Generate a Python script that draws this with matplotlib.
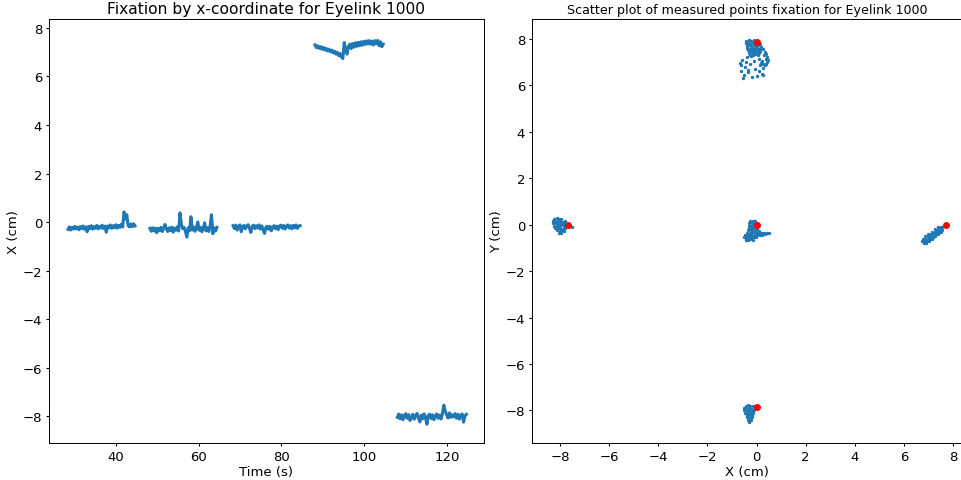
import numpy as np
import matplotlib
matplotlib.use("Agg")
from matplotlib import pyplot as plt
from matplotlib.ticker import MultipleLocator

# --- left panel: x-coordinate during each fixation (cm) ---
seg_start = [28.4, 48.2, 68.3, 88.1, 108.0]
seg_end = [44.6, 64.4, 84.5, 104.6, 124.7]

seg1 = [-0.30, -0.20, -0.33, -0.22, -0.29, -0.18, -0.28, -0.21, -0.32, -0.19,
        -0.27, -0.16, -0.30, -0.20, -0.40, -0.18, -0.27, -0.15, -0.29, -0.19,
        -0.26, -0.14, -0.28, -0.18, -0.25, -0.13, -0.27, -0.17, -0.42, -0.16,
        -0.24, -0.12, -0.26, -0.15, -0.23, -0.11, -0.25, -0.14, -0.22, -0.09,
        -0.20, 0.42, 0.12, 0.30, -0.15, -0.20, -0.08, -0.19, -0.07, -0.16]
seg2 = [-0.26, -0.38, -0.24, -0.37, -0.25, -0.44, -0.26, -0.36, -0.22, -0.39,
        -0.25, -0.10, -0.28, -0.39, -0.24, -0.35, -0.21, -0.42, -0.25, -0.34,
        -0.20, -0.37, 0.38, -0.08, -0.27, -0.22, -0.39, -0.62, -0.24, -0.36,
        0.22, -0.33, -0.21, -0.38, -0.24, 0.00, -0.34, -0.22, -0.40, -0.25,
        -0.03, -0.36, -0.23, -0.39, -0.19, 0.30, -0.48, -0.24, -0.37, -0.22]
seg3 = [-0.15, -0.27, -0.13, -0.33, -0.17, -0.12, -0.40, -0.19, -0.14, -0.28,
        -0.16, -0.11, -0.26, -0.43, -0.18, -0.13, -0.27, -0.15, -0.25, -0.12,
        -0.29, -0.16, -0.33, -0.47, -0.21, -0.17, -0.30, -0.18, -0.36, -0.20,
        -0.15, -0.28, -0.17, -0.31, -0.16, -0.13, -0.26, -0.14, -0.29, -0.17,
        -0.12, -0.25, -0.15, -0.28, -0.14, -0.24, -0.12, -0.26, -0.16, -0.15]
seg4 = [7.30, 7.19, 7.27, 7.16, 7.23, 7.12, 7.20, 7.09, 7.16, 7.05,
        7.13, 7.02, 7.09, 6.97, 7.05, 6.92, 7.00, 6.86, 6.95, 6.80,
        6.74, 7.40, 7.10, 6.92, 7.25, 7.33, 7.15, 7.36, 7.21, 7.39,
        7.24, 7.41, 7.27, 7.43, 7.29, 7.45, 7.32, 7.47, 7.34, 7.48,
        7.33, 7.46, 7.30, 7.48, 7.35, 7.49, 7.27, 7.43, 7.23, 7.33]
seg5 = [-8.05, -7.92, -8.11, -7.95, -8.15, -7.97, -7.90, -8.09, -7.94, -8.18,
        -8.06, -7.93, -8.13, -7.98, -7.89, -8.08, -8.24, -7.96, -8.11, -7.91,
        -8.07, -8.34, -7.97, -7.92, -8.10, -7.95, -8.15, -7.99, -7.91, -8.09,
        -7.96, -8.12, -7.90, -7.55, -7.80, -7.94, -8.08, -7.87, -8.05, -7.95,
        -8.03, -7.90, -8.09, -7.93, -8.13, -7.97, -7.91, -8.25, -7.98, -7.93]
segments = [seg1, seg2, seg3, seg4, seg5]

# --- right panel: measured points (cm) ---
top_x = [-0.42, -0.31, -0.22, -0.12, -0.03, 0.06,
         -0.45, -0.36, -0.25, -0.16, -0.07, 0.03, 0.12,
         -0.40, -0.30, -0.21, -0.11, -0.01, 0.09, 0.17,
         -0.38, -0.27, -0.18, -0.08, 0.02, 0.11,
         -0.35, -0.24, -0.14, -0.05, 0.05, 0.14,
         -0.30, -0.20, -0.10, 0.00, 0.08,
         -0.26, -0.15, -0.06, 0.04,
         0.18, 0.26, 0.33, 0.39, 0.44, 0.46, 0.43, 0.38, 0.33, 0.28, 0.22, 0.30, 0.40,
         -0.68, -0.62, -0.58, -0.52, -0.47, -0.40, -0.33, -0.26, -0.18, -0.12, -0.05, 0.02,
         0.08, 0.15, 0.22, 0.28, -0.55, -0.36, -0.21, 0.10, 0.18, -0.65, -0.44, 0.25]
top_y = [7.92, 7.94, 7.90, 7.93, 7.88, 7.91,
         7.80, 7.83, 7.79, 7.82, 7.78, 7.81, 7.76,
         7.70, 7.72, 7.68, 7.71, 7.69, 7.73, 7.66,
         7.60, 7.58, 7.62, 7.59, 7.61, 7.57,
         7.50, 7.48, 7.52, 7.49, 7.51, 7.47,
         7.40, 7.42, 7.38, 7.41, 7.39,
         7.32, 7.30, 7.33, 7.31,
         7.62, 7.55, 7.45, 7.35, 7.22, 7.10, 6.98, 6.90, 6.86, 6.92, 7.05, 7.28, 7.15,
         6.95, 6.60, 7.10, 6.45, 6.80, 7.20, 6.55, 6.90, 6.35, 7.05, 6.70, 6.40,
         7.15, 6.85, 6.50, 6.75, 6.30, 6.65, 7.25, 6.60, 6.95, 6.85, 7.00, 6.45]

left_x = [-8.25, -8.15, -8.05, -7.95,
          -8.30, -8.20, -8.10, -8.00, -7.90, -7.82,
          -8.28, -8.18, -8.08, -7.98, -7.88, -7.80,
          -8.25, -8.15, -8.05, -7.95, -7.85, -7.75, -7.62, -7.50,
          -8.20, -8.10, -8.00, -7.90, -7.80,
          -8.12, -8.02, -7.92, -7.84,
          -8.04, -7.95]
left_y = [0.25, 0.27, 0.24, 0.26,
          0.15, 0.17, 0.14, 0.16, 0.13, 0.15,
          0.05, 0.06, 0.04, 0.07, 0.03, 0.05,
          -0.05, -0.04, -0.06, -0.03, -0.05, -0.07, -0.06, -0.09,
          -0.15, -0.16, -0.14, -0.17, -0.13,
          -0.25, -0.27, -0.24, -0.26,
          -0.35, -0.37]

mid_x = [-0.25, -0.15, -0.05,
         -0.30, -0.20, -0.10, 0.00,
         -0.32, -0.22, -0.12, -0.02,
         -0.30, -0.20, -0.10, 0.00,
         -0.33, -0.23, -0.13, -0.03, 0.08,
         -0.38, -0.28, -0.18, -0.08, 0.02, 0.12, 0.22, 0.32, 0.42, 0.50,
         -0.48, -0.38, -0.28, -0.18, -0.08, 0.02, 0.12, 0.24, 0.36,
         -0.52, -0.42, -0.32, -0.22, -0.12, -0.02,
         -0.45, -0.35, -0.25, -0.15]
mid_y = [0.15, 0.17, 0.14,
         0.05, 0.06, 0.04, 0.07,
         -0.05, -0.04, -0.06, -0.03,
         -0.15, -0.16, -0.14, -0.17,
         -0.25, -0.24, -0.26, -0.23, -0.27,
         -0.35, -0.34, -0.36, -0.33, -0.35, -0.37, -0.34, -0.36, -0.35, -0.38,
         -0.45, -0.46, -0.44, -0.47, -0.45, -0.43, -0.46, -0.44, -0.42,
         -0.55, -0.56, -0.54, -0.57, -0.55, -0.53,
         -0.65, -0.66, -0.64, -0.67]

right_x = [7.40, 7.50, 7.55,
           7.28, 7.38, 7.48, 7.55,
           7.15, 7.25, 7.35, 7.45, 7.52,
           7.00, 7.10, 7.20, 7.30, 7.40,
           6.88, 6.98, 7.08, 7.18, 7.28,
           6.78, 6.88, 6.98, 7.08, 7.16,
           6.75, 6.85, 6.95, 7.04,
           6.82, 6.92]
right_y = [-0.10, -0.12, -0.09,
           -0.20, -0.21, -0.19, -0.22,
           -0.30, -0.31, -0.29, -0.32, -0.30,
           -0.40, -0.41, -0.39, -0.42, -0.40,
           -0.50, -0.51, -0.49, -0.52, -0.50,
           -0.60, -0.61, -0.59, -0.62, -0.60,
           -0.70, -0.71, -0.69, -0.72,
           -0.78, -0.80]

bot_x = [-0.45, -0.35, -0.25, -0.15, -0.05,
         -0.52, -0.42, -0.32, -0.22, -0.12, -0.02,
         -0.50, -0.40, -0.30, -0.20, -0.10,
         -0.46, -0.36, -0.26, -0.16,
         -0.40, -0.30, -0.20,
         -0.38, -0.28, -0.18,
         -0.33, -0.23,
         -0.30]
bot_y = [-7.80, -7.78, -7.81, -7.79, -7.82,
         -7.90, -7.91, -7.89, -7.92, -7.90, -7.88,
         -8.00, -8.01, -7.99, -8.02, -8.00,
         -8.10, -8.11, -8.09, -8.12,
         -8.20, -8.21, -8.19,
         -8.30, -8.31, -8.29,
         -8.40, -8.41,
         -8.50]

target_x = [0.0, -7.7, 0.0, 7.7, 0.0]
target_y = [7.85, 0.0, 0.0, 0.0, -7.85]

plt.rcParams['font.size'] = 9.5
plt.rcParams['xtick.major.size'] = 2.5
plt.rcParams['ytick.major.size'] = 2.5
plt.rcParams['xtick.major.pad'] = 2.5
plt.rcParams['ytick.major.pad'] = 2.5
plt.rcParams['axes.labelpad'] = 1.5
plt.rcParams['axes.titlepad'] = 4.0
plt.rcParams['axes.linewidth'] = 0.7

fig = plt.figure(figsize=(9.62, 4.81), dpi=100)
ax1 = fig.add_axes([0.0509, 0.0769, 0.4522, 0.8815])
ax2 = fig.add_axes([0.553, 0.0769, 0.4465, 0.8815])

# fixation x-coordinate over time
for t0, t1, seg in zip(seg_start, seg_end, segments):
    t = np.linspace(t0, t1, len(seg))
    ax1.plot(t, seg, color='C0', lw=2.2)
ax1.set_xlim(23.8, 128.95)
ax1.set_ylim(-9.11, 8.37)
ax1.yaxis.set_major_locator(MultipleLocator(2))
ax1.set_title('Fixation by x-coordinate for Eyelink 1000', fontsize=11.2)
ax1.set_xlabel('Time (s)')
ax1.set_ylabel('X (cm)')

# scatter of measured points with targets
all_x = top_x + left_x + mid_x + right_x + bot_x
all_y = top_y + left_y + mid_y + right_y + bot_y
ax2.scatter(all_x, all_y, s=2, color='C0')
ax2.scatter(target_x, target_y, s=16, color='red')
ax2.set_xlim(-9.15, 8.35)
ax2.set_ylim(-9.4, 8.85)
ax2.xaxis.set_major_locator(MultipleLocator(2))
ax2.yaxis.set_major_locator(MultipleLocator(2))
ax2.set_title('Scatter plot of measured points fixation for Eyelink 1000', fontsize=9.1)
ax2.set_xlabel('X (cm)')
ax2.set_ylabel('Y (cm)')

fig.savefig('out.png', dpi=100)
